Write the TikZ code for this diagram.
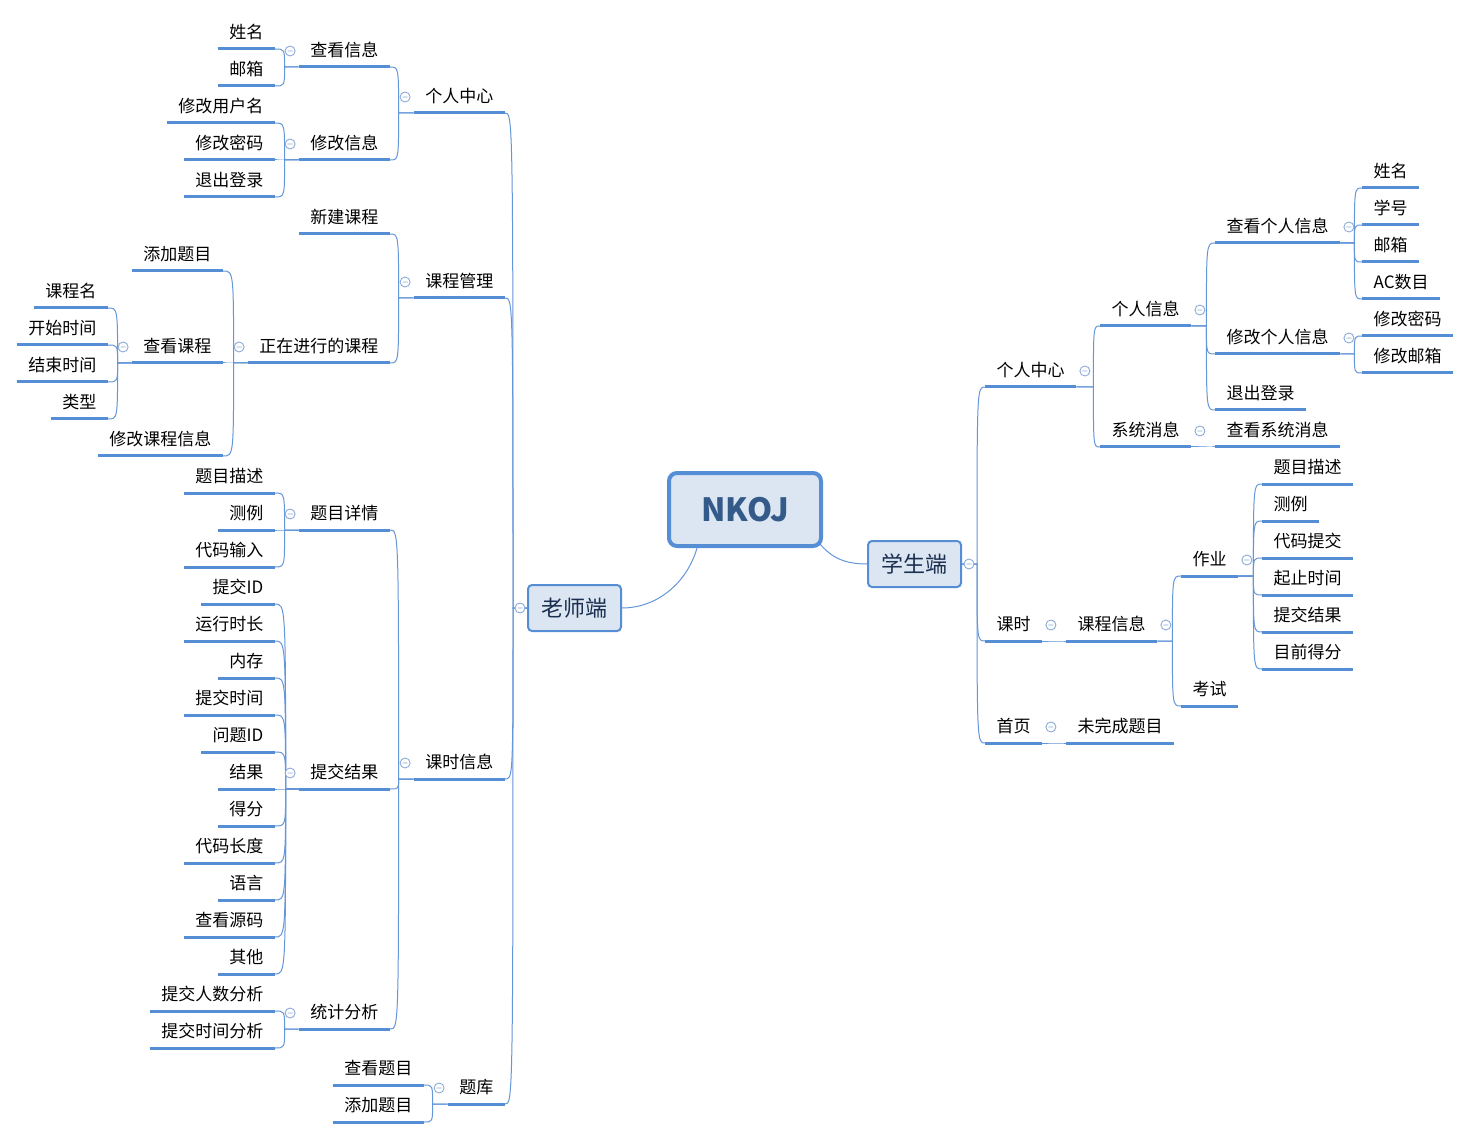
\documentclass[tikz,border=0pt]{standalone}
\usepackage{fontspec}
\setmainfont{Noto Sans CJK SC}
\usetikzlibrary{calc}
\definecolor{ulc}{RGB}{85,142,213}
\definecolor{cnc}{RGB}{100,150,218}
\definecolor{mcc}{RGB}{140,170,215}
\definecolor{boxfill}{RGB}{220,230,242}
\definecolor{roottext}{RGB}{52,90,138}
\definecolor{subtext}{RGB}{26,47,79}
\pgfdeclarelayer{bg}
\pgfdeclarelayer{paper}
\pgfsetlayers{paper,bg,main}
\tikzset{
  topic/.style={inner xsep=11.5pt, inner ysep=10.5pt, text height=13pt, text depth=0pt,
    font=\fontsize{17}{20}\selectfont, text=black,
    append after command={\pgfextra{\draw[line width=3pt, ulc] (\tikzlastnode.south west) -- (\tikzlastnode.south east);}}},
  tr/.style={topic, anchor=south west},
  tl/.style={topic, anchor=south east},
  conn/.style={cnc, line width=1pt},
  mcircle/.style={mcc, line width=0.9pt, fill=white},
  subbox/.style={draw=ulc, line width=2pt, fill=boxfill, rounded corners=4pt,
    minimum width=93pt, minimum height=46pt, inner sep=0pt, text=subtext,
    font=\fontsize{22}{26}\selectfont},
  rootbox/.style={draw=ulc, line width=4pt, fill=boxfill, rounded corners=8pt,
    minimum width=152pt, minimum height=73pt, inner sep=0pt, text=roottext,
    font=\fontsize{32}{36}\selectfont\bfseries}
}
% connector: from point #1 go horizontally by #3, then curve to point #2
\newcommand\cc[3]{\begin{pgfonlayer}{bg}\draw[conn] let \p1=(#1), \p2=(#2) in (\p1) -- ($(\p1)+(#3,0)$) .. controls ($(\x1,\y2)+(#3,0)$) .. (\p2);\end{pgfonlayer}}
\newcommand\mr[1]{\draw[mcircle] ($(#1.south east)+(8.5,-16)$) circle (5pt) ++(-2.5,0) -- ++(5,0);}
\newcommand\ml[1]{\draw[mcircle] ($(#1.south west)+(-8.5,-16)$) circle (5pt) ++(-2.5,0) -- ++(5,0);}
\begin{document}
\begin{tikzpicture}[x=1pt,y=-1pt]
\begin{pgfonlayer}{paper}
\fill[white] (0,0) rectangle (1473,1139);
\end{pgfonlayer}
\useasboundingbox (0,0) rectangle (1473,1139);

% root and main boxes
\node[rootbox] (root) at (745,509.5) {NKOJ};
\node[subbox] (stu) at (914.5,564) {学生端};
\node[subbox] (tea) at (574.5,608) {老师端};

% ---------------- student side ----------------
\node[tr] (s1) at (985,387) {个人中心};
\node[tr] (s2) at (985,641) {课时};
\node[tr] (s3) at (985,743) {首页};
\node[tr] (s11) at (1100,326) {个人信息};
\node[tr] (s12) at (1100,447) {系统消息};
\node[tr] (s111) at (1215,243) {查看个人信息};
\node[tr] (s112) at (1215,354) {修改个人信息};
\node[tr] (s113) at (1215,410) {退出登录};
\node[tr] (s121) at (1215,447) {查看系统消息};
\node[tr] (a1) at (1362,188) {姓名};
\node[tr] (a2) at (1362,225) {学号};
\node[tr] (a3) at (1362,262) {邮箱};
\node[tr] (a4) at (1362,299) {AC数目};
\node[tr] (b1) at (1362,336) {修改密码};
\node[tr] (b2) at (1362,373) {修改邮箱};
\node[tr] (s21) at (1066,641) {课程信息};
\node[tr] (s211) at (1181,576) {作业};
\node[tr] (s212) at (1181,706) {考试};
\node[tr] (h1) at (1262,484) {题目描述};
\node[tr] (h2) at (1262,521) {测例};
\node[tr] (h3) at (1262,558) {代码提交};
\node[tr] (h4) at (1262,595) {起止时间};
\node[tr] (h5) at (1262,632) {提交结果};
\node[tr] (h6) at (1262,669) {目前得分};
\node[tr] (s31) at (1066,743) {未完成题目};

% ---------------- teacher side ----------------
\node[tl] (t1) at (505,113) {个人中心};
\node[tl] (t2) at (505,298) {课程管理};
\node[tl] (t3) at (505,779) {课时信息};
\node[tl] (t4) at (505,1104) {题库};
\node[tl] (t11) at (390,67) {查看信息};
\node[tl] (t12) at (390,160) {修改信息};
\node[tl] (t111) at (275,49) {姓名};
\node[tl] (t112) at (275,86) {邮箱};
\node[tl] (t121) at (275,123) {修改用户名};
\node[tl] (t122) at (275,160) {修改密码};
\node[tl] (t123) at (275,197) {退出登录};
\node[tl] (t21) at (390,234) {新建课程};
\node[tl] (t22) at (390,363) {正在进行的课程};
\node[tl] (t221) at (223,271) {添加题目};
\node[tl] (t222) at (223,363) {查看课程};
\node[tl] (t223) at (223,456) {修改课程信息};
\node[tl] (k1) at (108,308) {课程名};
\node[tl] (k2) at (108,345) {开始时间};
\node[tl] (k3) at (108,382) {结束时间};
\node[tl] (k4) at (108,419) {类型};
\node[tl] (t31) at (390,530) {题目详情};
\node[tl] (t32) at (390,789) {提交结果};
\node[tl] (t33) at (390,1029) {统计分析};
\node[tl] (d1) at (275,493) {题目描述};
\node[tl] (d2) at (275,530) {测例};
\node[tl] (d3) at (275,567) {代码输入};
\node[tl] (r1) at (275,604) {提交ID};
\node[tl] (r2) at (275,641) {运行时长};
\node[tl] (r3) at (275,678) {内存};
\node[tl] (r4) at (275,715) {提交时间};
\node[tl] (r5) at (275,752) {问题ID};
\node[tl] (r6) at (275,789) {结果};
\node[tl] (r7) at (275,826) {得分};
\node[tl] (r8) at (275,863) {代码长度};
\node[tl] (r9) at (275,900) {语言};
\node[tl] (r10) at (275,937) {查看源码};
\node[tl] (r11) at (275,974) {其他};
\node[tl] (g1) at (275,1011) {提交人数分析};
\node[tl] (g2) at (275,1048) {提交时间分析};
\node[tl] (t41) at (424,1085) {查看题目};
\node[tl] (t42) at (424,1122) {添加题目};

% ---------------- connectors ----------------
\begin{pgfonlayer}{bg}
\draw[conn] ($(root.south east)+(-3,-4)$) .. controls +(12,14) and +(-22,0) .. (stu.west);
\draw[conn] ($(root.south)+(-48,0)$) .. controls +(-10,35) and +(35,0) .. (tea.east);
\end{pgfonlayer}
\foreach \c in {s1,s2,s3} {\cc{stu.east}{\c.south west}{15}}
\foreach \c in {s11,s12} {\cc{s1.south east}{\c.south west}{17}}
\foreach \c in {s111,s112,s113} {\cc{s11.south east}{\c.south west}{15}}
\cc{s12.south east}{s121.south west}{15}
\foreach \c in {a1,a2,a3,a4} {\cc{s111.south east}{\c.south west}{14}}
\foreach \c in {b1,b2} {\cc{s112.south east}{\c.south west}{14}}
\cc{s2.south east}{s21.south west}{12}
\foreach \c in {s211,s212} {\cc{s21.south east}{\c.south west}{15}}
\foreach \c in {h1,h2,h3,h4,h5,h6} {\cc{s211.south east}{\c.south west}{15}}
\cc{s3.south east}{s31.south west}{12}

\foreach \c in {t1,t2,t3,t4} {\cc{tea.west}{\c.south east}{-14}}
\foreach \c in {t11,t12} {\cc{t1.south west}{\c.south east}{-15}}
\foreach \c in {t111,t112} {\cc{t11.south west}{\c.south east}{-14}}
\foreach \c in {t121,t122,t123} {\cc{t12.south west}{\c.south east}{-14}}
\foreach \c in {t21,t22} {\cc{t2.south west}{\c.south east}{-15}}
\foreach \c in {t221,t222,t223} {\cc{t22.south west}{\c.south east}{-14}}
\foreach \c in {k1,k2,k3,k4} {\cc{t222.south west}{\c.south east}{-14}}
\foreach \c in {t31,t32,t33} {\cc{t3.south west}{\c.south east}{-15}}
\foreach \c in {d1,d2,d3} {\cc{t31.south west}{\c.south east}{-14}}
\foreach \c in {r1,r2,r3,r4,r5,r6,r7,r8,r9,r10,r11} {\cc{t32.south west}{\c.south east}{-13}}
\foreach \c in {g1,g2} {\cc{t33.south west}{\c.south east}{-14}}
\foreach \c in {t41,t42} {\cc{t4.south west}{\c.south east}{-15}}

% ---------------- collapse markers ----------------
\draw[mcircle] ($(stu.east)+(7,0)$) circle (5pt) ++(-2.5,0) -- ++(5,0);
\draw[mcircle] ($(tea.west)+(-7,0)$) circle (5pt) ++(-2.5,0) -- ++(5,0);
\foreach \n in {s1,s11,s12,s111,s112,s2,s21,s211,s3} {\mr{\n}}
\foreach \n in {t1,t11,t12,t2,t22,t222,t3,t31,t32,t33,t4} {\ml{\n}}
\end{tikzpicture}
\end{document}
